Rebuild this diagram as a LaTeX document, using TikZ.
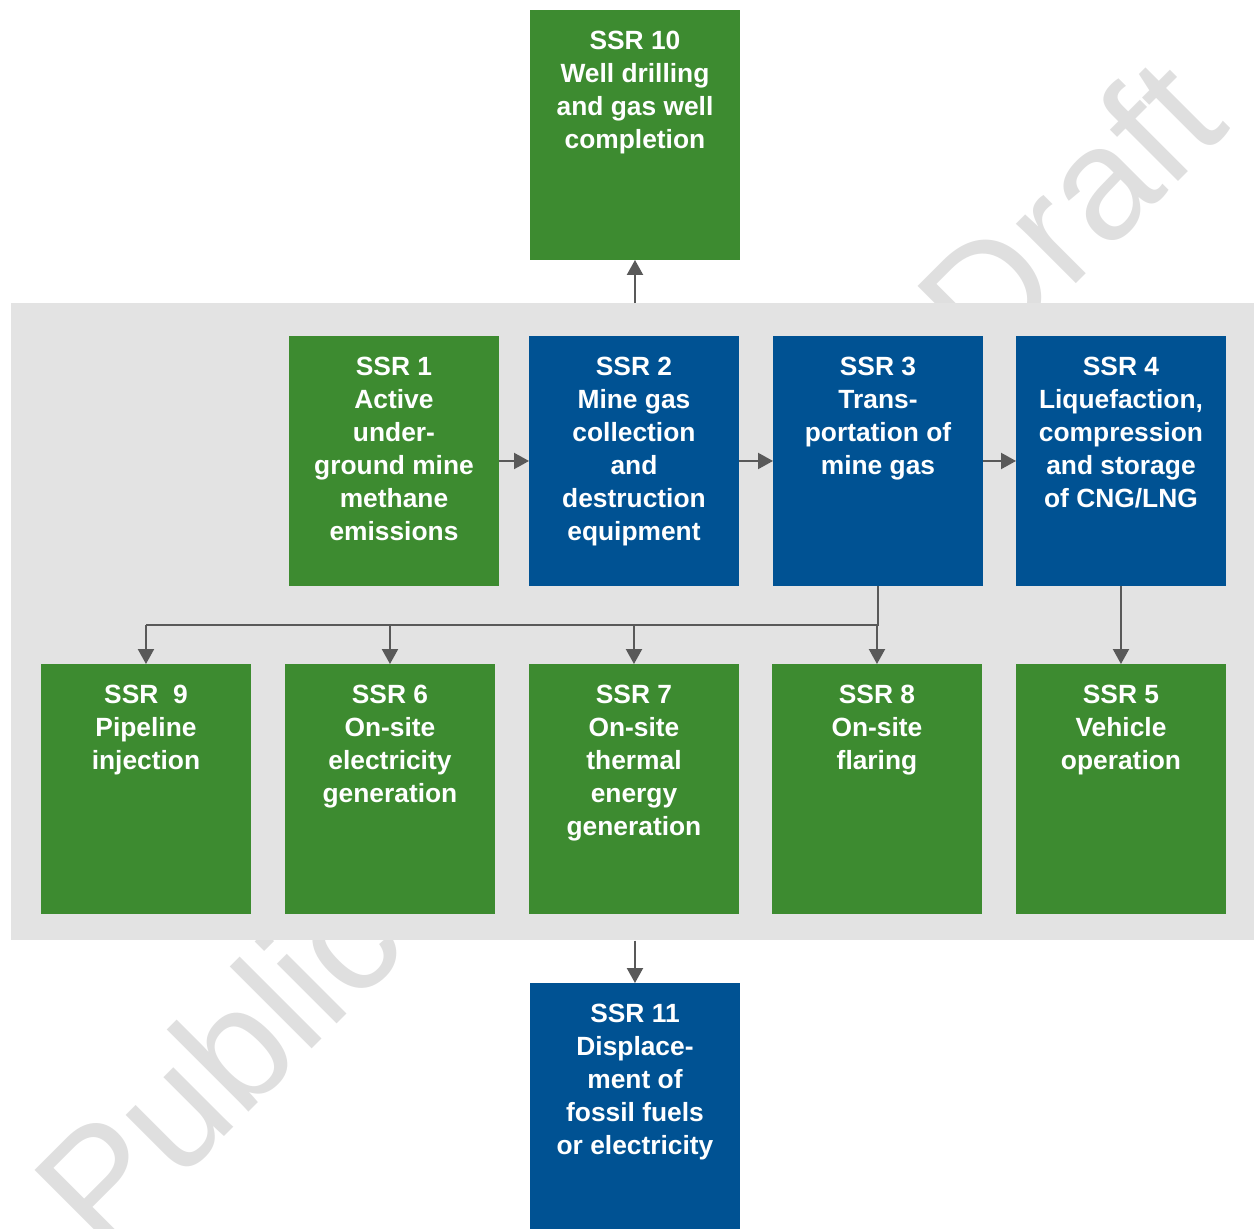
\documentclass[tikz,border=0pt]{standalone}
\usepackage{fontspec}
\setmainfont{Liberation Sans}
\usetikzlibrary{arrows.meta}
\definecolor{ssrgreen}{RGB}{61,139,48}
\definecolor{ssrblue}{RGB}{0,82,147}
\definecolor{bandgray}{RGB}{227,227,227}
\definecolor{markgray}{RGB}{223,223,223}
\definecolor{arrowgray}{RGB}{89,89,89}
\begin{document}
\begin{tikzpicture}[x=0.02cm, y=-0.02cm,
    ssr/.style={anchor=north west, minimum width=4.2cm, minimum height=5cm,
      inner sep=0pt, outer sep=0pt},
    ssrtext/.style={anchor=north, inner sep=0pt, yshift=-0.42cm, align=center,
      text=white, font=\fontsize{15}{18.7}\selectfont\bfseries},
    wmark/.style={rotate=45, inner sep=0pt, text=markgray,
      font=\fontsize{91}{91}\selectfont},
    arr/.style={draw=arrowgray, line width=1.2pt,
      -{Triangle[length=0.3cm,width=0.32cm]}},
    link/.style={draw=arrowgray, line width=1.2pt},
  ]
  \useasboundingbox (0,0) rectangle (1254,1228);

  % Watermark
  \node[wmark, anchor=base west] (pub) at (103,1258) {Public};
  \node[wmark, anchor=base east] (dft) at (1232,128) {Draft};

  % Project boundary
  \node[anchor=north west, fill=bandgray, minimum width=24.86cm,
    minimum height=12.74cm, inner sep=0pt] (band) at (11,303) {};

  % Upstream
  \node[ssr, fill=ssrgreen, label={[ssrtext]north:{SSR 10\\Well drilling\\and gas well\\completion}}] (s10) at (530,10) {};

  % Row 1
  \node[ssr, fill=ssrgreen, label={[ssrtext]north:{SSR 1\\Active\\under-\\ground mine\\methane\\emissions}}] (s1) at (289,336) {};
  \node[ssr, fill=ssrblue,  label={[ssrtext]north:{SSR 2\\Mine gas\\collection\\and\\destruction\\equipment}}] (s2) at (529,336) {};
  \node[ssr, fill=ssrblue,  label={[ssrtext]north:{SSR 3\\Trans-\\portation of\\mine gas}}] (s3) at (773,336) {};
  \node[ssr, fill=ssrblue,  label={[ssrtext]north:{SSR 4\\Liquefaction,\\compression\\and storage\\of CNG/LNG}}] (s4) at (1016,336) {};

  % Row 2
  \node[ssr, fill=ssrgreen, label={[ssrtext]north:{SSR\ \ 9\\Pipeline\\injection}}] (s9) at (41,664) {};
  \node[ssr, fill=ssrgreen, label={[ssrtext]north:{SSR 6\\On-site\\electricity\\generation}}] (s6) at (285,664) {};
  \node[ssr, fill=ssrgreen, label={[ssrtext]north:{SSR 7\\On-site\\thermal\\energy\\generation}}] (s7) at (529,664) {};
  \node[ssr, fill=ssrgreen, label={[ssrtext]north:{SSR 8\\On-site\\flaring}}] (s8) at (772,664) {};
  \node[ssr, fill=ssrgreen, label={[ssrtext]north:{SSR 5\\Vehicle\\operation}}] (s5) at (1016,664) {};

  % Downstream
  \node[ssr, fill=ssrblue, label={[ssrtext]north:{SSR 11\\Displace-\\ment of\\fossil fuels\\or electricity}}] (s11) at (530,983) {};

  % Arrows
  \draw[arr] (s10.south |- band.north) -- (s10.south);
  \draw[arr] (s1.east) -- (s2.west);
  \draw[arr] (s2.east) -- (s3.west);
  \draw[arr] (s3.east) -- (s4.west);
  \draw[arr] (s4.south) -- (s5.north);
  \draw[link] (s3.south) -- ++(0,39) coordinate (split) -- (split -| s9.north);
  \foreach \t in {s9,s6,s7,s8}
    \draw[arr] (split -| \t.north) -- (\t.north);
  \draw[arr] (s11.north |- band.south) -- (s11.north);
\end{tikzpicture}
\end{document}
